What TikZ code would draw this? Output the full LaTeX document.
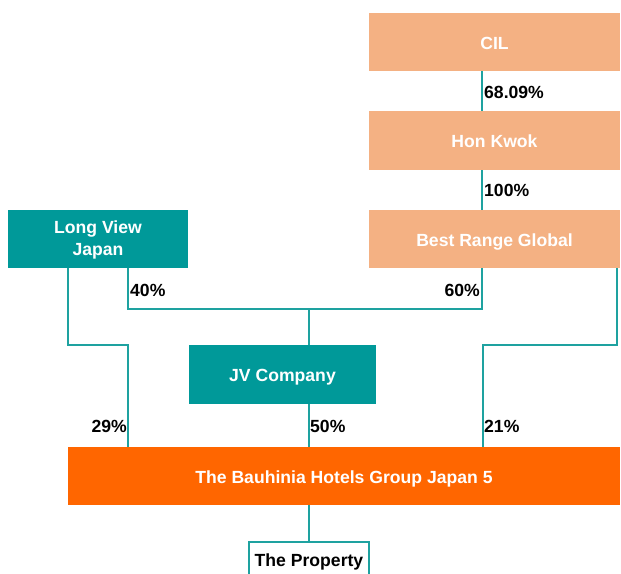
\documentclass[tikz,border=0pt]{standalone}
\usepackage{fontspec}
\setmainfont{Liberation Sans}
\begin{document}
\begin{tikzpicture}[x=1pt,y=-1pt,
  entity/.style={rectangle, inner sep=0pt, align=center, text=white,
    font=\fontsize{17.6}{22}\selectfont\bfseries},
  oneline/.style={text height=15pt, text depth=1pt},
  peach/.style={entity, oneline, fill=peachc},
  tealbox/.style={entity, fill=tealc},
  orangebox/.style={entity, oneline, fill=orangec},
  link/.style={draw=linec, line width=1.8pt},
  pct/.style={inner sep=0pt, text=black, font=\fontsize{17.6}{22}\selectfont\bfseries}]
\definecolor{tealc}{RGB}{0,153,153}
\definecolor{linec}{RGB}{30,162,160}
\definecolor{peachc}{RGB}{244,177,131}
\definecolor{orangec}{RGB}{255,102,0}
\path[use as bounding box, clip] (0,0) rectangle (621,573);

% ownership chain on the right
\node[peach, minimum width=251pt, minimum height=58pt] (cil) at (494.5,42) {CIL};
\node[peach, minimum width=251pt, minimum height=59pt] (hk) at (494.5,140.5) {Hon Kwok};
\node[peach, minimum width=251pt, minimum height=58pt] (brg) at (494.5,239) {Best Range Global};

% left investor and the joint venture
\node[tealbox, text depth=1pt, minimum width=180pt, minimum height=58pt] (lvj) at (98,239) {Long View\\Japan};
\node[tealbox, oneline, minimum width=187pt, minimum height=59pt] (jv) at (282.5,374.5) {JV Company};

% group and property
\node[orangebox, minimum width=552pt, minimum height=58pt] (grp) at (344,476) {The Bauhinia Hotels Group Japan 5};
\node[draw=linec, line width=1.8pt, fill=white, inner sep=0pt, minimum width=120pt,
  minimum height=40pt, anchor=north, font=\fontsize{17.6}{22}\selectfont\bfseries]
  (prop) at (309,541) {The Property};

% reference columns for the connectors
\coordinate (xa) at (482,0);
\coordinate (xl) at (68,0);
\coordinate (xm) at (128,0);
\coordinate (xc) at (309,0);
\coordinate (xr) at (617,0);
\coordinate (xr2) at (483,0);
\coordinate (yj) at (0,309);
\coordinate (yk) at (0,345);

\draw[link] (cil.south -| xa) -- (hk.north -| xa);
\draw[link] (hk.south -| xa) -- (brg.north -| xa);
% 40% / 60% into the JV
\draw[link] (lvj.south -| xm) -- (xm |- yj) -- (xa |- yj) -- (brg.south -| xa);
\draw[link] (xc |- yj) -- (jv.north -| xc);
% direct holdings in the group
\draw[link] (lvj.south -| xl) -- (xl |- yk) -- (xm |- yk) -- (grp.north -| xm);
\draw[link] (jv.south -| xc) -- (grp.north -| xc);
\draw[link] (brg.south -| xr) -- (xr |- yk) -- (xr2 |- yk) -- (grp.north -| xr2);
\draw[link] (grp.south -| xc) -- (prop.north);

% percentages
\node[pct, anchor=west] (p1) at (484,92) {68.09\%};
\node[pct, anchor=west] (p2) at (484,190) {100\%};
\node[pct, anchor=west] (p3) at (130,290) {40\%};
\node[pct, anchor=east] (p4) at (480,290) {60\%};
\node[pct, anchor=east] (p5) at (127,426) {29\%};
\node[pct, anchor=west] (p6) at (310,426) {50\%};
\node[pct, anchor=west] (p7) at (484,426) {21\%};
\end{tikzpicture}
\end{document}
